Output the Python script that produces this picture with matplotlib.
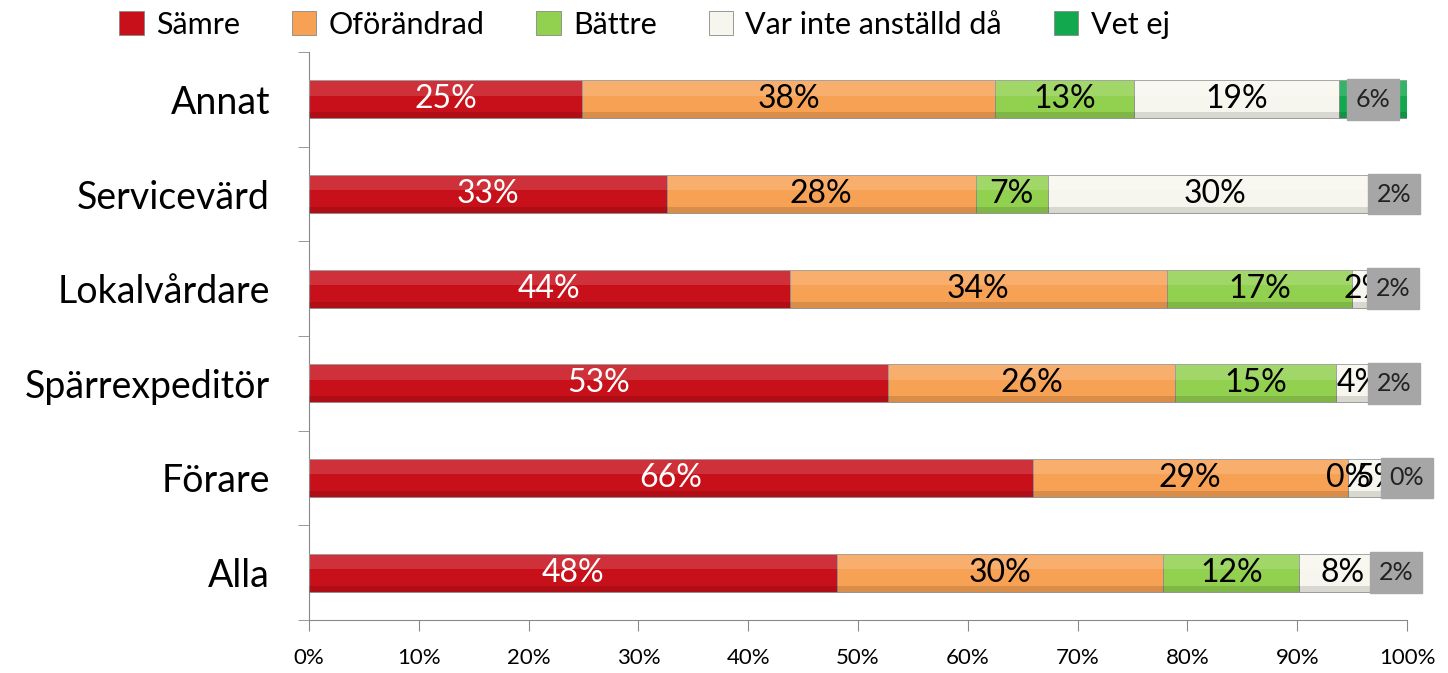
import numpy as np
import matplotlib.pyplot as plt
from matplotlib.patches import Patch

plt.rcParams['font.family'] = ['Lato', 'DejaVu Sans']

categories = ['Alla', 'Förare', 'Spärrexpeditör', 'Lokalvårdare', 'Servicevärd', 'Annat']
series = ['Sämre', 'Oförändrad', 'Bättre', 'Var inte anställd då', 'Vet ej']

samre = [48.1, 65.9, 52.7, 43.8, 32.6, 24.9]
oforandrad = [29.7, 28.7, 26.2, 34.3, 28.1, 37.6]
battre = [12.4, 0.0, 14.6, 16.9, 6.6, 12.6]
var_inte = [7.8, 5.4, 4.2, 2.5, 30.4, 18.7]
vet_ej = [2.0, 0.0, 2.3, 2.5, 2.3, 6.2]

colors = ['#c8101a', '#f7a154', '#92d050', '#f7f6ee', '#12a84e']
text_colors = ['white', 'black', 'black', 'black', '#222222']

fig = plt.figure(figsize=(14.48, 6.73), dpi=100)
ax = fig.add_axes([0.2134, 0.0788, 0.7583, 0.8439])

y = np.arange(len(categories))
h = 0.4
left = np.zeros(len(categories))
data = [samre, oforandrad, battre, var_inte, vet_ej]

for i, vals in enumerate(data):
    vals = np.array(vals)
    ax.barh(y, vals, h, left=left, color=colors[i], edgecolor='#8a8a8a',
            linewidth=0.6, zorder=2)
    # bevel highlight / shade
    ax.barh(y + h * 0.3, vals, h * 0.4, left=left, color='white', alpha=0.14,
            linewidth=0, zorder=3)
    ax.barh(y - h * 0.42, vals, h * 0.16, left=left, color='black', alpha=0.12,
            linewidth=0, zorder=3)
    for j, v in enumerate(vals):
        cx = left[j] + v / 2
        lbl = '%d%%' % round(v)
        if i == 4:
            ax.text(cx, y[j], lbl, ha='center', va='center', fontsize=18,
                    color=text_colors[i], zorder=6,
                    bbox=dict(boxstyle='square,pad=0.35', facecolor='#a6a6a6',
                              edgecolor='#a6a6a6'))
        else:
            ax.text(cx, y[j], lbl, ha='center', va='center', fontsize=23,
                    color=text_colors[i], zorder=5)
    left = left + vals

ax.set_xlim(0, 100)
ax.set_ylim(-0.5, len(categories) - 0.5)
ax.set_xticks(np.arange(0, 101, 10))
ax.set_xticklabels(['%d%%' % t for t in range(0, 101, 10)], fontsize=16)
ax.set_yticks(y)
ax.set_yticklabels(categories, fontsize=27)
ax.set_yticks(np.arange(-0.5, len(categories), 1), minor=True)
ax.tick_params(axis='y', which='major', length=0, pad=28)
ax.tick_params(axis='y', which='minor', length=8, color='#888888')
ax.tick_params(axis='x', length=8, color='#888888', pad=12)
for s in ['top', 'right']:
    ax.spines[s].set_visible(False)
for s in ['left', 'bottom']:
    ax.spines[s].set_color('#888888')

handles = [Patch(facecolor=c, edgecolor='#888888', linewidth=0.6) for c in colors]
fig.legend(handles, series, loc='upper center', bbox_to_anchor=(0.445, 1.025),
           ncol=5, frameon=False, fontsize=22, handlelength=0.8, handleheight=0.8,
           handletextpad=0.4, columnspacing=1.7)

fig.savefig('out.png', dpi=100)
